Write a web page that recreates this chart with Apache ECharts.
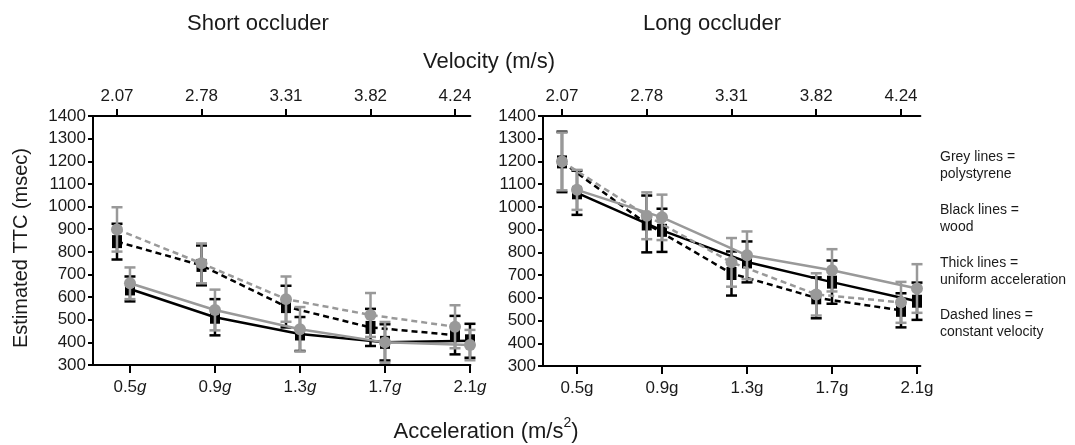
<!DOCTYPE html>
<html>
<head>
<meta charset="utf-8">
<script src="https://cdn.jsdelivr.net/npm/echarts@6/dist/echarts.min.js"></script>
<style>
html,body{margin:0;padding:0;background:#fff;}
#chart{width:1075px;height:445px;}
</style>
</head>
<body>
<div id="chart"></div>
<script>
// ---- data ----
const tickIndex = [0, 1, 2, 3, 4];
const velocityLabels = ['2.07', '2.78', '3.31', '3.82', '4.24'];
const accelLabels = ['0.5', '0.9', '1.3', '1.7', '2.1'];

// Short occluder
const shortPolyCV = [899, 749, 591, 521, 469];
const shortPolyCVErr = [98, 88, 100, 97, 95];
const shortWoodCV = [845, 740, 558, 466, 432];
const shortWoodCVErr = [79, 88, 92, 82, 85];
const shortPolyUA = [661, 543, 458, 400, 388];
const shortPolyUAErr = [70, 90, 98, 90, 67];
const shortWoodUA = [636, 511, 437, 400, 407];
const shortWoodUAErr = [55, 80, 75, 80, 75];

// Long occluder
const longPolyCV = [1200, 961, 756, 615, 580];
const longPolyCVErr = [127, 103, 107, 93, 90];
const longWoodCV = [1198, 925, 707, 600, 545];
const longWoodCVErr = [133, 125, 97, 90, 75];
const longPolyUA = [1075, 954, 787, 721, 641];
const longPolyUAErr = [88, 100, 105, 93, 107];
const longWoodUA = [1062, 897, 758, 669, 585];
const longWoodUAErr = [97, 95, 90, 95, 82];

// ---- styling ----
const FONT = "'Liberation Sans', Arial, Helvetica, sans-serif";
const GREY = '#999999';
const BLACK = '#000000';
const TXT = '#1a1a1a';

const chart = echarts.init(document.getElementById('chart'), null, {renderer: 'canvas'});

const panels = [
  {left: 93, top: 116, width: 377.4, height: 249, botMin: -0.435, botMax: 4.005, topMin: -0.284, topMax: 4.182, italic: true,
   polyCV: shortPolyCV, polyCVErr: shortPolyCVErr, woodCV: shortWoodCV, woodCVErr: shortWoodCVErr,
   polyUA: shortPolyUA, polyUAErr: shortPolyUAErr, woodUA: shortWoodUA, woodUAErr: shortWoodUAErr},
  {left: 543, top: 116, width: 377.4, height: 250, botMin: -0.4, botMax: 4.04, topMin: -0.224, topMax: 4.229, italic: false,
   polyCV: longPolyCV, polyCVErr: longPolyCVErr, woodCV: longWoodCV, woodCVErr: longWoodCVErr,
   polyUA: longPolyUA, polyUAErr: longPolyUAErr, woodUA: longWoodUA, woodUAErr: longWoodUAErr}
];

const grids = [], xAxes = [], yAxes = [], series = [];

function errRenderer(color) {
  return function (params, api) {
    const x = api.value(0);
    const lo = api.coord([x, api.value(1)]);
    const hi = api.coord([x, api.value(2)]);
    const w = 5.5;
    const style = {stroke: color, lineWidth: 2.5, fill: null};
    return {
      type: 'group',
      children: [
        {type: 'line', shape: {x1: hi[0], y1: hi[1], x2: lo[0], y2: lo[1]}, style: style},
        {type: 'line', shape: {x1: hi[0] - w, y1: hi[1], x2: hi[0] + w, y2: hi[1]}, style: style},
        {type: 'line', shape: {x1: lo[0] - w, y1: lo[1], x2: lo[0] + w, y2: lo[1]}, style: style}
      ]
    };
  };
}

panels.forEach(function (p, gi) {
  grids.push({left: p.left, top: p.top, width: p.width, height: p.height, containLabel: false});
  const axisLine = {show: true, onZero: false, lineStyle: {color: BLACK, width: 2}};
  const tickStyle = {color: BLACK, width: 2};
  // bottom acceleration axis
  xAxes.push({
    type: 'value', gridIndex: gi, position: 'bottom', min: p.botMin, max: p.botMax,
    axisLine: axisLine,
    axisTick: {show: true, customValues: tickIndex, length: 8, lineStyle: tickStyle},
    axisLabel: {
      show: true, customValues: tickIndex, margin: 14, fontSize: 17, fontFamily: FONT, color: TXT,
      formatter: function (v) {
        const i = Math.round(v);
        return p.italic ? accelLabels[i] + '{i|g}' : accelLabels[i] + 'g';
      },
      rich: {i: {fontStyle: 'italic', fontSize: 17, fontFamily: FONT, color: TXT}}
    },
    splitLine: {show: false}
  });
  // top velocity axis
  xAxes.push({
    type: 'value', gridIndex: gi, position: 'top', min: p.topMin, max: p.topMax,
    axisLine: axisLine,
    axisTick: {show: true, customValues: tickIndex, length: 7, lineStyle: tickStyle},
    axisLabel: {
      show: true, customValues: tickIndex, margin: 11, fontSize: 17, fontFamily: FONT, color: TXT,
      formatter: function (v) { return velocityLabels[Math.round(v)]; }
    },
    splitLine: {show: false}
  });
  yAxes.push({
    type: 'value', gridIndex: gi, position: 'left', min: 300, max: 1400, interval: 100,
    axisLine: {show: true, onZero: false, lineStyle: {color: BLACK, width: 2}},
    axisTick: {show: true, length: 5, lineStyle: tickStyle},
    axisLabel: {show: true, margin: 7, fontSize: 17, fontFamily: FONT, color: TXT,
      formatter: function (v) { return String(v); }},
    splitLine: {show: false}
  });

  const botIdx = gi * 2, topIdx = gi * 2 + 1;
  const groups = [
    {vals: p.woodCV, err: p.woodCVErr, color: BLACK, dashed: true, xi: topIdx, sym: 'rect', size: [10, 13]},
    {vals: p.woodUA, err: p.woodUAErr, color: BLACK, dashed: false, xi: botIdx, sym: 'rect', size: [10, 13]},
    {vals: p.polyCV, err: p.polyCVErr, color: GREY, dashed: true, xi: topIdx, sym: 'circle', size: 12},
    {vals: p.polyUA, err: p.polyUAErr, color: GREY, dashed: false, xi: botIdx, sym: 'circle', size: 12}
  ];
  groups.forEach(function (g, k) {
    series.push({
      type: 'custom', xAxisIndex: g.xi, yAxisIndex: gi, z: 2 + k * 2,
      encode: {x: 0, y: [1, 2]},
      renderItem: errRenderer(g.color),
      data: g.vals.map(function (v, i) { return [tickIndex[i], v - g.err[i], v + g.err[i]]; }),
      silent: true
    });
    series.push({
      type: 'line', xAxisIndex: g.xi, yAxisIndex: gi, z: 3 + k * 2,
      data: g.vals.map(function (v, i) { return [tickIndex[i], v]; }),
      symbol: g.sym, symbolSize: g.size, showSymbol: true,
      lineStyle: {color: g.color, width: 2.5, type: g.dashed ? [6, 4] : 'solid'},
      itemStyle: {color: g.color, borderWidth: 0},
      animation: false, silent: true
    });
  });
});

const textStyle = function (extra) {
  return Object.assign({fontFamily: FONT, fill: TXT}, extra);
};

const graphics = [
  {type: 'text', x: 258, y: 24, style: textStyle({text: 'Short occluder', fontSize: 22, align: 'center', verticalAlign: 'middle'})},
  {type: 'text', x: 712, y: 24, style: textStyle({text: 'Long occluder', fontSize: 22, align: 'center', verticalAlign: 'middle'})},
  {type: 'text', x: 489, y: 62, style: textStyle({text: 'Velocity (m/s)', fontSize: 22, align: 'center', verticalAlign: 'middle'})},
  {type: 'text', x: 21, y: 248, rotation: Math.PI / 2, style: textStyle({text: 'Estimated TTC (msec)', fontSize: 20, align: 'center', verticalAlign: 'middle'})},
  {type: 'text', x: 486, y: 432, style: textStyle({
    text: 'Acceleration (m/s{sup|2})', fontSize: 22, lineHeight: 32, align: 'center', verticalAlign: 'middle',
    rich: {sup: {fontSize: 14, verticalAlign: 'top', fontFamily: FONT, fill: TXT, lineHeight: 14}}
  })}
];

const legendLines = [
  ['Grey lines =', 157], ['polystyrene', 174],
  ['Black lines =', 210], ['wood', 227],
  ['Thick lines =', 263], ['uniform acceleration', 280],
  ['Dashed lines =', 315], ['constant velocity', 332]
];
legendLines.forEach(function (l) {
  graphics.push({type: 'text', x: 940, y: l[1], style: textStyle({text: l[0], fontSize: 14, align: 'left', verticalAlign: 'middle'})});
});

chart.setOption({
  animation: false,
  backgroundColor: '#ffffff',
  grid: grids,
  xAxis: xAxes,
  yAxis: yAxes,
  series: series,
  graphic: graphics
});
</script>
</body>
</html>
